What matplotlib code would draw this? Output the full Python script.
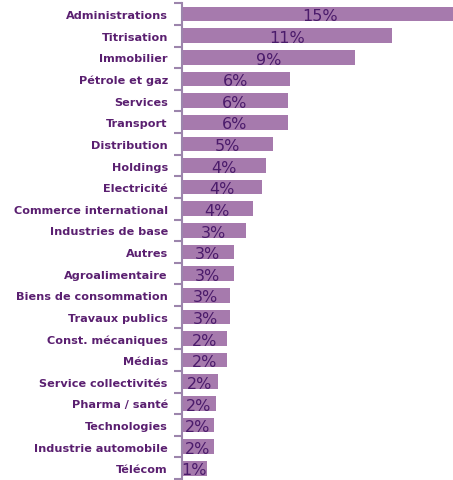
import matplotlib.pyplot as plt
import numpy as np

secteurs = ['Administrations', 'Titrisation', 'Immobilier', 'Pétrole et gaz', 'Services',
            'Transport', 'Distribution', 'Holdings', 'Electricité', 'Commerce international',
            'Industries de base', 'Autres', 'Agroalimentaire', 'Biens de consommation',
            'Travaux publics', 'Const. mécaniques', 'Médias', 'Service collectivités',
            'Pharma / santé', 'Technologies', 'Industrie automobile', 'Télécom']
parts = [15.3, 11.65, 9.6, 6.0, 5.87, 5.87, 5.05, 4.66, 4.42, 3.92, 3.55,
         2.87, 2.87, 2.67, 2.67, 2.5, 2.5, 2.0, 1.88, 1.77, 1.77, 1.38]
etiquettes = ['15%', '11%', '9%', '6%', '6%', '6%', '5%', '4%', '4%', '4%', '3%',
              '3%', '3%', '3%', '3%', '2%', '2%', '2%', '2%', '2%', '2%', '1%']

bar_color = '#A67AAD'
text_color = '#4B1B6B'
label_color = '#5A1F70'

fig = plt.figure(figsize=(4.53, 4.81), dpi=100)
ax = fig.add_axes([0.401, 0.002, 0.599, 0.989])

y = np.arange(len(secteurs))
ax.barh(y, parts, height=0.68, color=bar_color)
ax.set_xlim(0, 15.0)
ax.set_ylim(len(secteurs) - 0.5, -0.5)

# valeurs au centre des barres
for i, v in enumerate(parts):
    ax.text(min(v, 15.3) / 2, i + 0.08, etiquettes[i], ha='center', va='center',
            fontsize=11.5, color=text_color)

ax.set_yticks(y)
ax.set_yticklabels(secteurs, fontsize=8.1, fontweight='bold', color=label_color)
ax.tick_params(axis='y', which='major', length=0, pad=10)
ax.set_yticks(np.arange(-0.5, len(secteurs)), minor=True)
ax.tick_params(axis='y', which='minor', length=6, width=1.5, color='#9C85AC')
ax.set_xticks([])

for s in ['top', 'right', 'bottom']:
    ax.spines[s].set_visible(False)
ax.spines['left'].set_color('#9C85AC')
ax.spines['left'].set_linewidth(1.5)

plt.savefig('out.png', dpi=100)
plt.close()
